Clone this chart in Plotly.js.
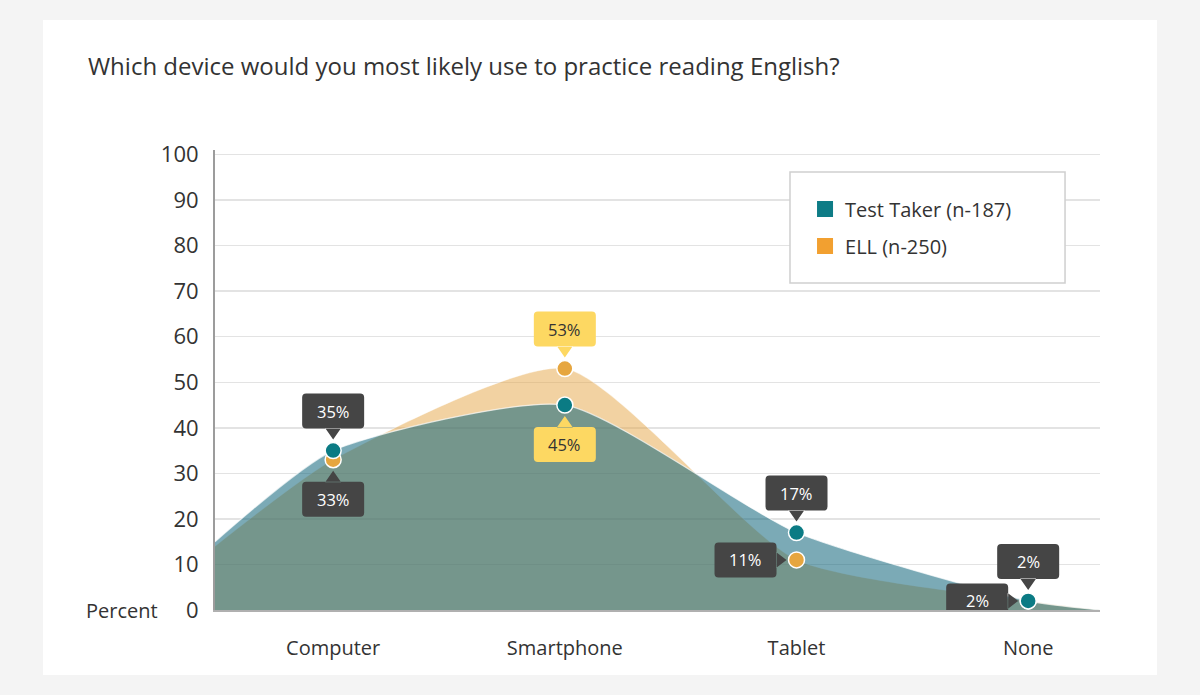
<!DOCTYPE html>
<html>
<head>
<meta charset="utf-8">
<script src="https://cdn.plot.ly/plotly-3.0.1.min.js"></script>
<style>
  html, body { margin: 0; padding: 0; background: #f4f4f4; }
  #chart { width: 1200px; height: 695px; }
</style>
</head>
<body>
<div id="chart"></div>
<script>
// ---- Data ----
const categories = ['Computer', 'Smartphone', 'Tablet', 'None'];
const testTaker = [35, 45, 17, 2];
const ell = [33, 53, 11, 2];
// values of the smoothed areas at the left and right ends of the axis
const testTakerEdges = [15, 0];
const ellEdges = [14, 0];
const seriesNames = ['Test Taker (n-187)', 'ELL (n-250)'];
const yTicks = [0, 10, 20, 30, 40, 50, 60, 70, 80, 90, 100];

// ---- Style ----
const FONT = 'Open Sans, sans-serif';
const TEXT = '#333333';
const TEAL = '#0b7b84';
const ORANGE = '#e6a63f';
const xRange = [-0.51, 3.31];
const SMOOTH = 0.6;
const catIdx = categories.map((_, i) => i);

// callout placement per point (style only)
const callouts = [
  { s: 0, i: 0, side: 'up', theme: 'dark' },
  { s: 1, i: 0, side: 'down', theme: 'dark' },
  { s: 1, i: 1, side: 'up', theme: 'yellow' },
  { s: 0, i: 1, side: 'down', theme: 'yellow' },
  { s: 0, i: 2, side: 'up', theme: 'dark' },
  { s: 1, i: 2, side: 'left', theme: 'dark' },
  { s: 0, i: 3, side: 'up', theme: 'dark' },
  { s: 1, i: 3, side: 'left', theme: 'dark' }
];
const seriesVals = [testTaker, ell];
const themes = { dark: { bg: '#454545', fg: '#ffffff' }, yellow: { bg: '#fdd862', fg: '#333333' } };

function roundRect(x0, y0, x1, y1, r) {
  // pixel coordinates, y up
  return `M${x0 + r},${y0} L${x1 - r},${y0} Q${x1},${y0} ${x1},${y0 + r} L${x1},${y1 - r} Q${x1},${y1} ${x1 - r},${y1} L${x0 + r},${y1} Q${x0},${y1} ${x0},${y1 - r} L${x0},${y0 + r} Q${x0},${y0} ${x0 + r},${y0} Z`;
}
function calloutPath(side) {
  const W = 31, H = 17.5, gap = 22, tip = 11, half = 8, r = 4;
  if (side === 'up') {
    return roundRect(-W, gap, W, gap + 2 * H, r) + ` M${-half},${gap + 0.5} L0,${tip} L${half},${gap + 0.5} Z`;
  } else if (side === 'down') {
    return roundRect(-W, -gap - 2 * H, W, -gap, r) + ` M${-half},${-gap - 0.5} L0,${-tip} L${half},${-gap - 0.5} Z`;
  } else {
    return roundRect(-gap - 2 * W + 2, -H, -gap + 2, H, r) + ` M${-gap + 1.5},${-half} L${-tip + 1},0 L${-gap + 1.5},${half} Z`;
  }
}

const shapes = [
  // white card
  { type: 'rect', xref: 'paper', yref: 'paper', x0: -0.1944, x1: 1.0644, y0: -0.1413, y1: 1.2826,
    fillcolor: '#ffffff', line: { width: 0 }, layer: 'below' },
  // legend box
  { type: 'rect', xref: 'paper', yref: 'paper', x0: 0.6497, x1: 0.9605, y0: 0.7109, y1: 0.9522,
    fillcolor: '#ffffff', line: { color: '#cfcfcf', width: 1.5 }, layer: 'above' }
];
const annotations = [
  { xref: 'paper', yref: 'y', x: -0.0621, y: 0, xanchor: 'right', yanchor: 'middle', showarrow: false,
    text: 'Percent', font: { family: FONT, size: 20, color: TEXT } }
];
callouts.forEach(c => {
  const v = seriesVals[c.s][c.i];
  const th = themes[c.theme];
  shapes.push({ type: 'path', xref: 'x', yref: 'y', xsizemode: 'pixel', ysizemode: 'pixel',
    xanchor: c.i, yanchor: v, path: calloutPath(c.side), fillcolor: th.bg, line: { width: 0 }, layer: 'above' });
  annotations.push({ xref: 'x', yref: 'y', x: c.i, y: v, showarrow: false, text: v + '%',
    xshift: c.side === 'left' ? -51 : 0, yshift: c.side === 'up' ? 39.5 : (c.side === 'down' ? -39.5 : 0),
    font: { family: FONT, size: 16.5, color: th.fg }, xanchor: 'center', yanchor: 'middle' });
});

const traces = [
  { x: [xRange[0], ...catIdx, xRange[1]], y: [ellEdges[0], ...ell, ellEdges[1]], type: 'scatter', mode: 'lines',
    line: { shape: 'spline', smoothing: SMOOTH, width: 0.8, color: 'rgba(255,255,255,0.5)' },
    fill: 'tozeroy', fillcolor: 'rgba(230,165,70,0.5)', showlegend: false, hoverinfo: 'skip' },
  { x: [xRange[0], ...catIdx, xRange[1]], y: [testTakerEdges[0], ...testTaker, testTakerEdges[1]], type: 'scatter', mode: 'lines',
    line: { shape: 'spline', smoothing: SMOOTH, width: 1.2, color: 'rgba(255,255,255,0.7)' },
    fill: 'tozeroy', fillcolor: 'rgba(15,100,122,0.55)', showlegend: false, hoverinfo: 'skip' },
  { x: catIdx, y: ell, type: 'scatter', mode: 'markers', showlegend: false, hoverinfo: 'skip',
    marker: { size: 16, color: ORANGE, line: { color: '#ffffff', width: 1.5 } } },
  { x: catIdx, y: testTaker, type: 'scatter', mode: 'markers', showlegend: false, hoverinfo: 'skip',
    marker: { size: 16, color: TEAL, line: { color: '#ffffff', width: 1.5 } } },
  { x: [null], y: [null], type: 'scatter', mode: 'markers', name: seriesNames[0], legendgroup: 'a',
    marker: { symbol: 'square', size: 16, color: '#0e7c86' } },
  { x: [null], y: [null], type: 'scatter', mode: 'markers', name: seriesNames[1], legendgroup: 'b',
    marker: { symbol: 'square', size: 16, color: '#f2a030' } }
];

const layout = {
  width: 1200, height: 695,
  margin: { l: 215, r: 100, t: 150, b: 85 },
  paper_bgcolor: '#f4f4f4', plot_bgcolor: '#ffffff',
  font: { family: FONT, color: TEXT },
  title: { text: 'Which device would you most likely use to practice reading English?',
    xref: 'container', yref: 'container', x: 0.0733, xanchor: 'left', y: 1 - 67 / 695, yanchor: 'middle',
    font: { family: FONT, size: 24, color: TEXT } },
  xaxis: { range: xRange, tickvals: catIdx, ticktext: categories, showgrid: false, zeroline: false,
    showline: true, linecolor: '#b0b0b0', linewidth: 1.5, ticks: '', ticklabelstandoff: 19,
    tickfont: { family: FONT, size: 20, color: TEXT }, fixedrange: true },
  yaxis: { range: [0, 101], tickvals: yTicks, showgrid: true, gridcolor: '#e3e3e3', gridwidth: 1.5,
    zeroline: false, showline: true, linecolor: '#9c9c9c', linewidth: 2, ticks: '', ticklabelstandoff: 10,
    tickfont: { family: FONT, size: 22, color: TEXT }, fixedrange: true },
  legend: { x: 0.6667, y: 0.914, xanchor: 'left', yanchor: 'top', bgcolor: 'rgba(0,0,0,0)', borderwidth: 0,
    traceorder: 'grouped', tracegroupgap: 8, font: { family: FONT, size: 20, color: TEXT } },
  shapes: shapes,
  annotations: annotations,
  hovermode: false
};

Plotly.newPlot('chart', traces, layout, { displayModeBar: false, staticPlot: true });
</script>
</body>
</html>
